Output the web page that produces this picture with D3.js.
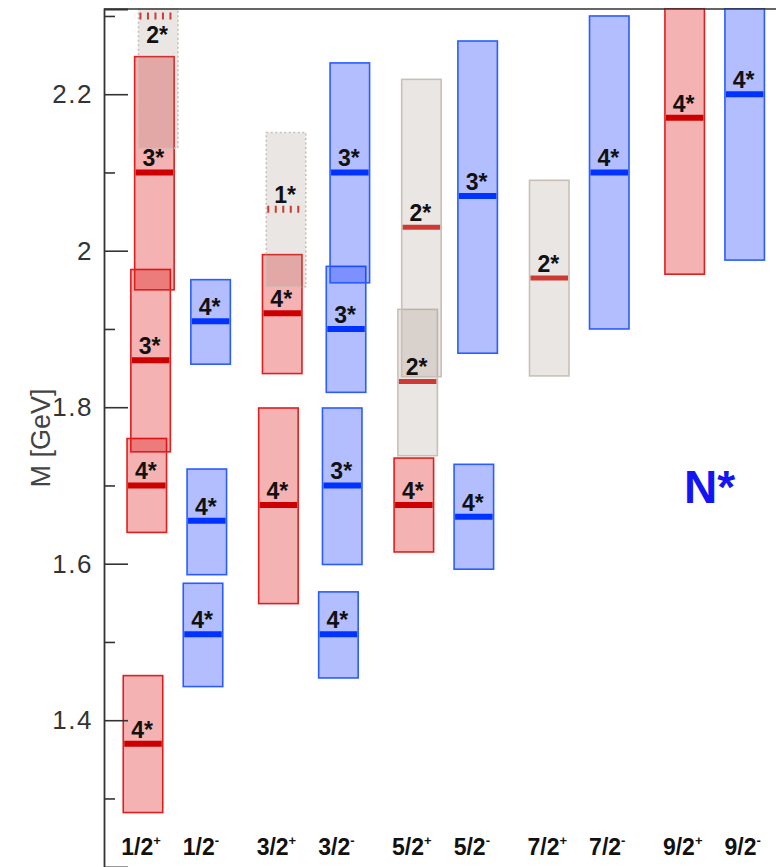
<!DOCTYPE html>
<html>
<head>
<meta charset="utf-8">
<script src="https://cdn.jsdelivr.net/npm/d3@7"></script>
<style>
  html, body { margin: 0; padding: 0; background: #fff; }
  svg { display: block; }
</style>
</head>
<body>
<svg id="chart" width="776" height="867"></svg>
<script>
// ---- data ----
const spinLabels   = ["1/2", "1/2", "3/2", "3/2", "5/2", "5/2", "7/2", "7/2", "9/2", "9/2"];
const parityLabels = ["+", "-", "+", "-", "+", "-", "+", "-", "+", "-"];

// resonances: category index, mass, lower edge, upper edge, star rating, tentative flag
const resCat   = [0, 0, 0, 0, 0,   1, 1, 1,   2, 2, 2,   3, 3, 3, 3,   4, 4, 4,   5, 5,   6,   7,   8,   9];
const resMass  = [1.370, 1.700, 1.860, 2.100, 2.300,  1.510, 1.655, 1.910,  1.675, 1.920, 2.053,  1.510, 1.700, 1.900, 2.100,  1.675, 1.833, 2.030,  1.660, 2.070,  1.965,  2.100,  2.170,  2.200];
const resLow   = [1.282, 1.640, 1.743, 1.950, 2.131,  1.443, 1.586, 1.855,  1.549, 1.843, 1.954,  1.454, 1.599, 1.819, 1.959,  1.615, 1.738, 1.839,  1.593, 1.869,  1.840,  1.900,  1.970,  1.988];
const resHigh  = [1.457, 1.760, 1.976, 2.248, 2.400,  1.575, 1.721, 1.963,  1.799, 1.995, 2.151,  1.564, 1.799, 1.980, 2.240,  1.735, 1.925, 2.219,  1.727, 2.268,  2.090,  2.300,  2.310,  2.310];
const resStars = [4, 4, 3, 3, 2,   4, 4, 4,   4, 4, 1,   4, 3, 3, 3,   4, 2, 2,   4, 3,   2,   4,   4,   4];
const resTentative = [false, false, false, false, true,  false, false, false,  false, false, true,  false, false, false, false,  false, false, false,  false, false,  false,  false,  false,  false];

const majorTicks = [1.4, 1.6, 1.8, 2.0, 2.2];
const minorTicks = [1.3, 1.5, 1.7, 1.9, 2.1, 2.3];
const yTitle = "M [GeV]";
const panelLabel = "N*";

// ---- layout ----
const W = 776, H = 867;
const plotLeft = 104, plotTop = 9, plotBottom = 867;
const svg = d3.select("#chart");

const y = d3.scaleLinear().domain([1.2124, 2.3089]).range([plotBottom, plotTop]);
const slotOf = i => Math.floor(i / 2) * 2.257 + (i % 2);
const x = d3.scaleLinear().domain([0, 1]).range([138, 198]);
const boxW = 39.5;

const resonances = resMass.map((m, i) => ({
  cat: resCat[i], mass: m, low: resLow[i], high: resHigh[i],
  stars: resStars[i], tentative: resTentative[i],
  parity: parityLabels[resCat[i]]
}));
// rank within category by mass -> small horizontal offset
d3.groups(resonances, d => d.cat).forEach(([c, arr]) => {
  arr.slice().sort((a, b) => a.mass - b.mass).forEach((d, k) => { d.rank = k; });
});
resonances.forEach(d => {
  d.cx = x(slotOf(d.cat)) + 5 + d.rank * 3.8;
  d.kind = d.stars <= 2 ? "gray" : (d.parity === "+" ? "red" : "blue");
});

const fills   = { red: "rgba(220,0,0,0.30)", blue: "rgba(0,40,255,0.30)", gray: "rgba(150,130,115,0.20)" };
const strokes = { red: "#e01e1e", blue: "#2a5cff", gray: "#c8c0b8" };
const lineCol = { red: "#cc0000", blue: "#0033ff", gray: "#cc3a33" };

svg.append("defs").append("clipPath").attr("id", "plotclip")
  .append("rect").attr("x", plotLeft).attr("y", plotTop - 1).attr("width", W - plotLeft).attr("height", plotBottom - plotTop + 1);

const g = svg.append("g").attr("clip-path", "url(#plotclip)");

// boxes
g.selectAll("rect.box").data(resonances).join("rect")
  .attr("class", "box")
  .attr("x", d => d.cx - boxW / 2)
  .attr("width", boxW)
  .attr("y", d => y(d.high))
  .attr("height", d => y(d.low) - y(d.high))
  .attr("fill", d => fills[d.kind])
  .attr("stroke", d => strokes[d.kind])
  .attr("stroke-width", 1.6)
  .attr("stroke-dasharray", d => d.tentative ? "2,2.5" : null);

// central mass lines
g.selectAll("line.mass").data(resonances).join("line")
  .attr("class", "mass")
  .attr("x1", d => d.cx - boxW / 2 + 1)
  .attr("x2", d => d.cx + boxW / 2 - 1)
  .attr("y1", d => y(d.mass)).attr("y2", d => y(d.mass))
  .attr("stroke", d => lineCol[d.kind])
  .attr("stroke-width", d => d.tentative ? 7 : (d.kind === "gray" ? 5 : 6))
  .attr("stroke-dasharray", d => d.tentative ? "2,5.5" : null);

// star labels
g.selectAll("text.stars").data(resonances).join("text")
  .attr("class", "stars")
  .attr("x", d => d.cx - 1)
  .attr("y", d => {
    const base = y(d.mass) - 6;
    return (base - 17 < plotTop) ? y(d.mass) + 27 : base;
  })
  .attr("text-anchor", "middle")
  .attr("font-family", "Liberation Sans, Arial, sans-serif")
  .attr("font-weight", "bold")
  .attr("font-size", 23)
  .attr("fill", "#111")
  .text(d => d.stars + "*");

// frame: top line
svg.append("line")
  .attr("x1", plotLeft).attr("x2", W)
  .attr("y1", plotTop).attr("y2", plotTop)
  .attr("stroke", "#333").attr("stroke-width", 1.6);

// y axis
const fmt = v => String(+v.toFixed(1));
const yAxis = svg.append("g").attr("transform", `translate(${plotLeft},0)`)
  .call(d3.axisLeft(y).tickValues(majorTicks).tickSize(-24).tickPadding(11).tickFormat(fmt));
yAxis.select(".domain").attr("stroke", "#333").attr("stroke-width", 1.8);
yAxis.selectAll(".tick line").attr("stroke", "#333").attr("stroke-width", 1.6);
yAxis.selectAll(".tick text")
  .attr("font-family", "Liberation Sans, Arial, sans-serif")
  .attr("font-size", 26)
  .attr("letter-spacing", 1.5)
  .attr("fill", "#333");

const yMinor = svg.append("g").attr("transform", `translate(${plotLeft},0)`)
  .call(d3.axisLeft(y).tickValues(minorTicks).tickSize(-11).tickFormat(""));
yMinor.select(".domain").remove();
yMinor.selectAll(".tick line").attr("stroke", "#333").attr("stroke-width", 1.6);

// y title
svg.append("text")
  .attr("transform", "translate(50,438) rotate(-90)")
  .attr("text-anchor", "middle")
  .attr("font-family", "Liberation Sans, Arial, sans-serif")
  .attr("font-size", 27)
  .attr("fill", "#444")
  .text(yTitle);

// category labels
const cats = spinLabels.map((s, i) => ({ s, p: parityLabels[i], i }));
const catText = svg.selectAll("text.cat").data(cats).join("text")
  .attr("class", "cat")
  .attr("x", d => x(slotOf(d.i)) + 3)
  .attr("y", 855)
  .attr("text-anchor", "middle")
  .attr("font-family", "Liberation Sans, Arial, sans-serif")
  .attr("font-weight", "bold")
  .attr("font-size", 23)
  .attr("fill", "#111");
catText.append("tspan").text(d => d.s);
catText.append("tspan")
  .attr("font-size", 13)
  .attr("dy", -10)
  .text(d => d.p);

// panel label
svg.append("text")
  .attr("x", 684).attr("y", 503)
  .attr("font-family", "Liberation Sans, Arial, sans-serif")
  .attr("font-weight", "bold")
  .attr("font-size", 46)
  .attr("fill", "#1414f5")
  .text(panelLabel);
</script>
</body>
</html>
